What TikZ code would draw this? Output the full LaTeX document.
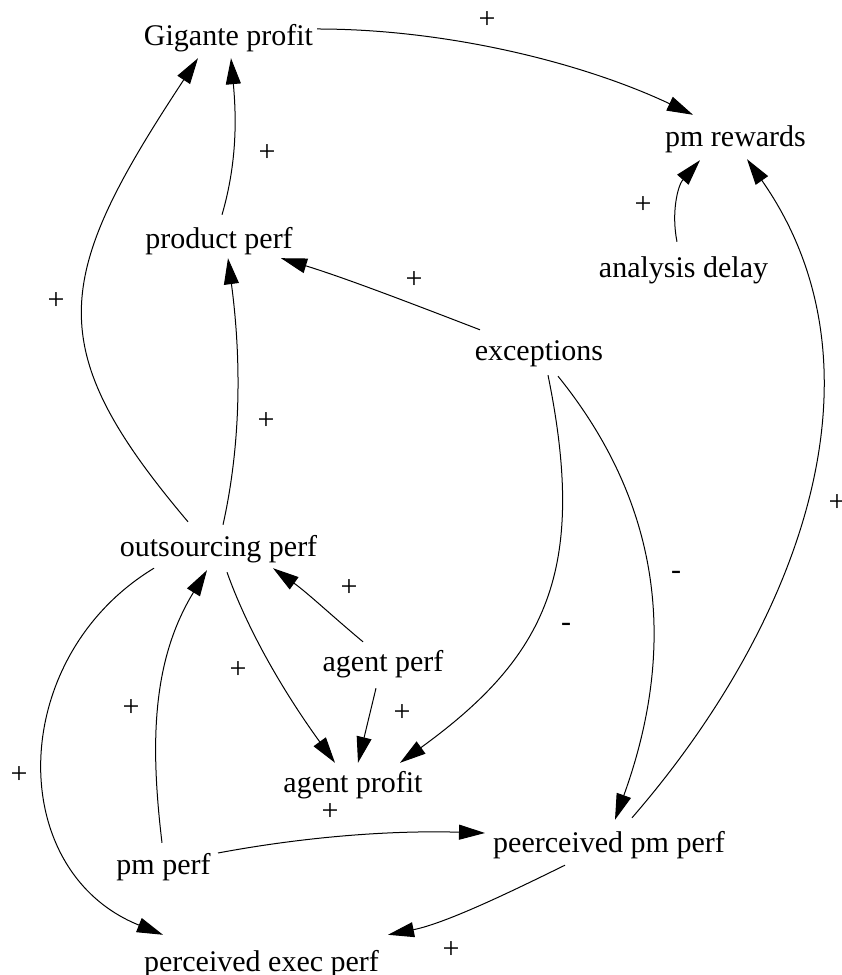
\documentclass[tikz,border=0pt]{standalone}
\usepackage{fontspec}
\setmainfont{Liberation Serif}
\usetikzlibrary{arrows.meta}

\begin{document}
\begin{tikzpicture}[x=1pt, y=1pt,
		var/.style={font=\fontsize{30}{36}\selectfont, inner sep=0pt,
			text height=21pt, text depth=7pt, anchor=base},
		sgn/.style={font=\fontsize{30}{36}\selectfont, inner sep=0pt},
		link/.style={line width=1pt, -{Triangle[length=26pt, width=15pt]}}
		]
		\useasboundingbox (0,0) rectangle (842,975);
		
		%variables
		\node[var] (gp) at (228.5,929) {Gigante profit};
		\node[var] (pmr) at (735.5,828) {pm rewards};
		\node[var] (ad) at (683.5,697) {analysis delay};
		\node[var] (pp) at (219,726) {product perf};
		\node[var] (ex) at (539,614) {exceptions};
		\node[var] (op) at (218.5,418) {outsourcing perf};
		\node[var] (agp) at (383,303) {agent perf};
		\node[var] (agpr) at (353,182) {agent profit};
		\node[var] (pmp) at (163.5,100) {pm perf};
		\node[var] (ppm) at (609,122) {peerceived pm perf};
		\node[var] (pep) at (261.5,3) {perceived exec perf};
		
		%links
		\draw[link] ([shift={(88.5,10)}]gp.center) .. controls +(130,0) and +(-110,52) .. ([shift={(-42.5,11)}]pmr.north);
		\draw[link] ([shift={(3,13)}]pp.north) .. controls +(16,55) and +(5,-55) .. ([shift={(2.5,-5)}]gp.south);
		\draw[link] ([shift={(-30.5,14)}]op.north) .. controls +(-148,175) and +(-145,-220) .. ([shift={(-30.5,-5)}]gp.south);
		\draw[link] ([shift={(-6.5,15)}]ad.north) .. controls +(-6,30) and +(-22,-25) .. ([shift={(-35.5,-6)}]pmr.south);
		\draw[link] ([shift={(-59,10)}]ex.north) .. controls +(-65,25) and +(65,-20) .. ([shift={(62,-2)}]pp.south);
		\draw[link] ([shift={(4.5,11)}]op.north) .. controls +(20,90) and +(12,-90) .. ([shift={(9,-2)}]pp.south);
		\draw[link] ([shift={(23,14)}]ppm.north) .. controls +(164,189) and +(149,-213) .. ([shift={(11.5,-5)}]pmr.south);
		\draw[link] ([shift={(9,-7)}]ex.south) .. controls +(40,-196) and +(146,106) .. ([shift={(47,9)}]agpr.north);
		\draw[link] ([shift={(19,-8)}]ex.south) .. controls +(94.5,-117) and +(68,188) .. ([shift={(6,12)}]ppm.north);
		\draw[link] ([shift={(-20,9)}]agp.north) .. controls +(-30,25) and +(35,-25) .. ([shift={(54.5,-4)}]op.south);
		\draw[link] ([shift={(8.5,-8)}]op.south) .. controls +(25,-70) and +(-40,55) .. ([shift={(-18,9)}]agpr.north);
		\draw[link] ([shift={(-7,-9)}]agp.south) -- ([shift={(5,9)}]agpr.north);
		\draw[link] ([shift={(-1.5,11)}]pmp.north) .. controls +(-12,100) and +(-55,-90) .. ([shift={(-11.5,-6)}]op.south);
		\draw[link] ([shift={(-64.5,-4)}]op.south) .. controls +(-147,-89) and +(-159,64) .. ([shift={(-98.5,16)}]pep.north);
		\draw[link] ([shift={(54.5,15)}]pmp.center) .. controls +(80,15) and +(-100,3) .. ([shift={(-124,13)}]ppm.center);
		\draw[link] ([shift={(-44,-5)}]ppm.south) .. controls +(-45,-22) and +(60,12) .. ([shift={(126.5,16)}]pep.north);
		
		%polarities
		\node[sgn] (s-gp-pmr) at (487,955) {+};
		\node[sgn] (s-pp-gp) at (267,822) {+};
		\node[sgn] (s-ad-pmr) at (643,770) {+};
		\node[sgn] (s-op-gp) at (56,674) {+};
		\node[sgn] (s-ex-pp) at (414,695) {+};
		\node[sgn] (s-op-pp) at (266,554) {+};
		\node[sgn] (s-ppm-pmr) at (837,472) {+};
		\node[sgn] (s-ex-ppm) at (676,400) {-};
		\node[sgn] (s-ex-agpr) at (566,348) {-};
		\node[sgn] (s-agp-op) at (349,387) {+};
		\node[sgn] (s-op-agpr) at (238,305) {+};
		\node[sgn] (s-pmp-op) at (131,267) {+};
		\node[sgn] (s-agp-agpr) at (402,262) {+};
		\node[sgn] (s-op-pep) at (19,200) {+};
		\node[sgn] (s-pmp-ppm) at (330,163) {+};
		\node[sgn] (s-ppm-pep) at (451,25) {+};
	\end{tikzpicture}
\end{document}
